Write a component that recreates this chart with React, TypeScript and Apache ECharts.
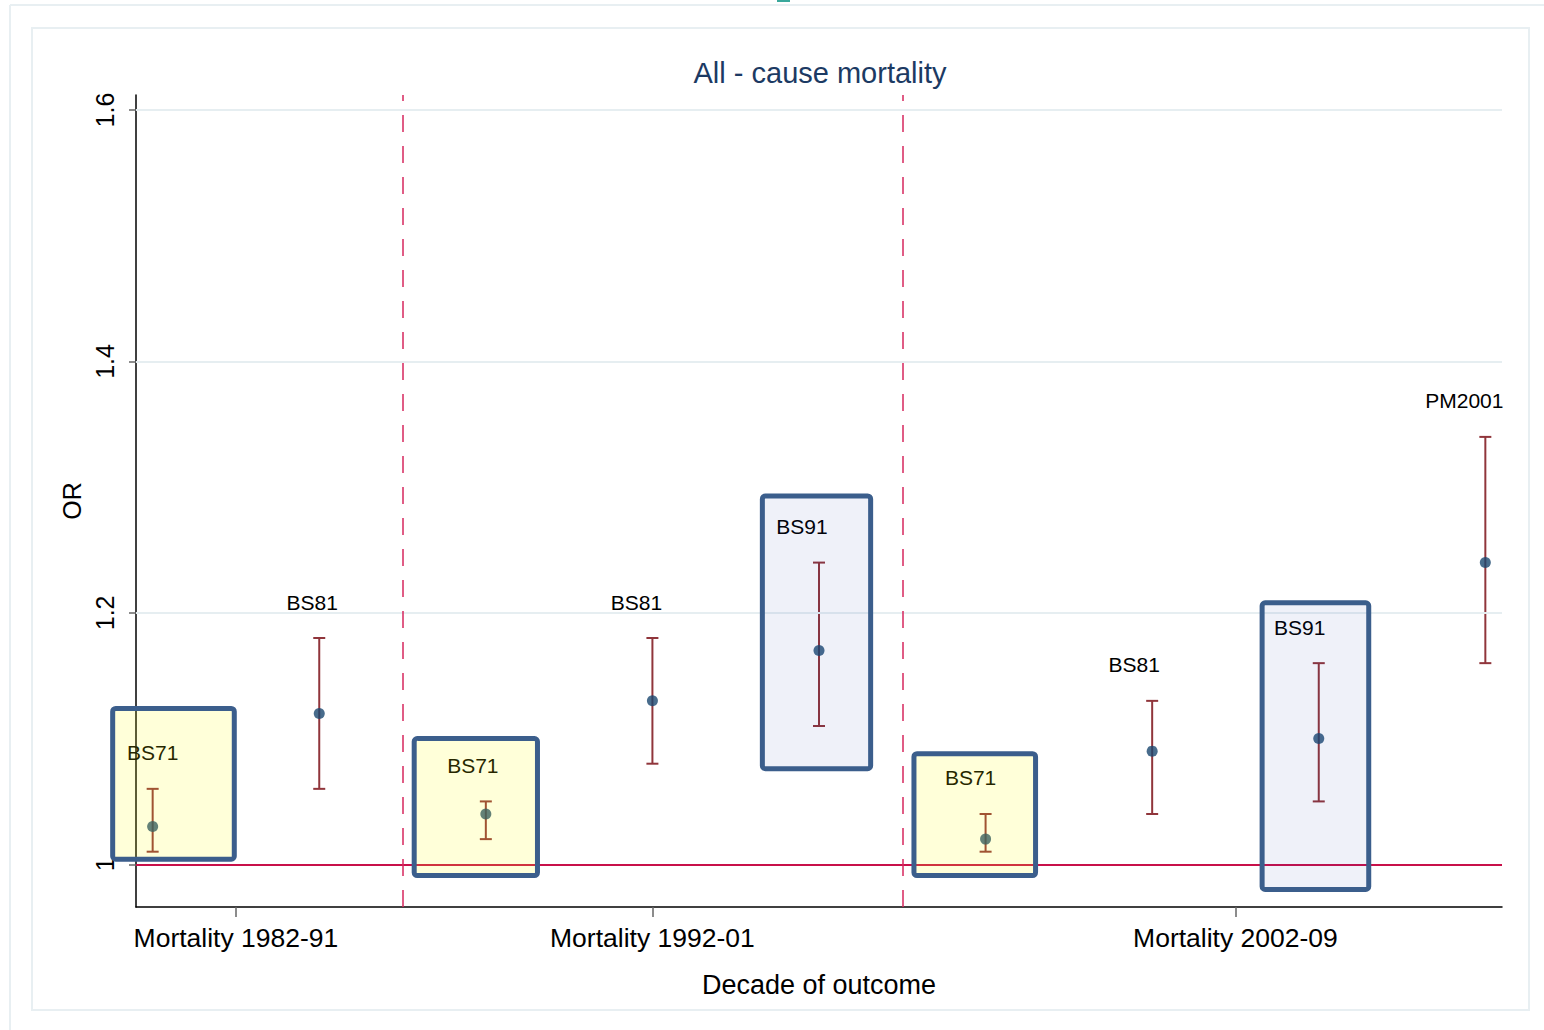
import React, { useEffect, useRef } from "react";
import * as echarts from "echarts";

// ---- data ----
const xPositions = [1, 2, 3, 4, 5, 6, 7, 8, 9];
const studyLabels = ["BS71", "BS81", "BS71", "BS81", "BS91", "BS71", "BS81", "BS91", "PM2001"];
const oddsRatio = [1.03, 1.12, 1.04, 1.13, 1.17, 1.02, 1.09, 1.1, 1.24];
const ciLower = [1.01, 1.06, 1.02, 1.08, 1.11, 1.01, 1.04, 1.05, 1.16];
const ciUpper = [1.06, 1.18, 1.05, 1.18, 1.24, 1.04, 1.13, 1.16, 1.34];

const decadeTickValues = [1.5, 4, 7.5];
const decadeTickLabels = ["Mortality 1982-91", "Mortality 1992-01", "Mortality 2002-09"];
const decadeSeparators = [2.5, 5.5];
const yTickValues = [1, 1.2, 1.4, 1.6];
const yGridValues = [1.2, 1.4, 1.6];
const referenceValue = 1;

// highlight boxes (data coordinates), kind 0 = yellow, 1 = blue
const boxX0 = [0.76, 2.57, 4.66, 5.57, 7.66];
const boxX1 = [1.49, 3.31, 5.31, 6.3, 8.3];
const boxY0 = [1.004, 0.991, 1.076, 0.991, 0.98];
const boxY1 = [1.124, 1.1, 1.293, 1.088, 1.208];
const boxKind = [0, 0, 1, 0, 1];

const FONT = "'Liberation Sans', Arial, sans-serif";
// horizontal label nudges (pixels), layout only
const LABEL_DX = [0, -7, -13, -16, -17, -15, -18, -19, -21];

export default function App() {
  const ref = useRef<HTMLDivElement>(null);
  useEffect(() => {
    if (!ref.current) return;
    const chart = echarts.init(ref.current, undefined, { renderer: "svg" });
    const ciData = xPositions.map((x, i) => [x, ciLower[i], ciUpper[i], i]);
    const pointData = xPositions.map((x, i) => [x, oddsRatio[i]]);
    const boxData = boxX0.map((x0, i) => [x0, boxX1[i], boxY0[i], boxY1[i], boxKind[i]]);

    chart.setOption({
      animation: false,
      backgroundColor: "#ffffff",
      textStyle: { fontFamily: FONT },
      title: {
        text: "All - cause mortality",
        left: 815,
        textAlign: "center",
        top: 53,
        textStyle: { fontFamily: FONT, fontSize: 29, fontWeight: "normal", color: "#1c3a63" },
      },
      graphic: [
        { type: "line", shape: { x1: 10, y1: 5, x2: 1544, y2: 5 }, style: { stroke: "#e8eff2", lineWidth: 2 }, silent: true },
        { type: "line", shape: { x1: 10, y1: 5, x2: 10, y2: 1030 }, style: { stroke: "#e8eff2", lineWidth: 2 }, silent: true },
        { type: "rect", shape: { x: 32, y: 28, width: 1497, height: 982 }, style: { fill: "none", stroke: "#e8eff2", lineWidth: 2 }, silent: true },
        { type: "rect", shape: { x: 777, y: 0, width: 13, height: 2 }, style: { fill: "#3aa89c" }, silent: true },
      ],
      grid: { left: 136, right: 42, top: 95, bottom: 123, containLabel: false },
      xAxis: {
        type: "value",
        min: 0.9,
        max: 9.1,
        name: "Decade of outcome",
        nameLocation: "middle",
        nameGap: 64,
        nameTextStyle: { fontFamily: FONT, fontSize: 27, color: "#000" },
        axisLine: { show: true, onZero: false, lineStyle: { color: "#000", width: 1.5 } },
        axisTick: { show: true, customValues: decadeTickValues, length: 10, lineStyle: { color: "#666", width: 1.5 } },
        axisLabel: {
          customValues: decadeTickValues,
          margin: 17,
          fontFamily: FONT,
          fontSize: 26.5,
          color: "#000",
          formatter: (v: number) => {
            const i = decadeTickValues.indexOf(v);
            return i >= 0 ? decadeTickLabels[i] : "";
          },
        },
        splitLine: { show: false },
      },
      yAxis: {
        type: "value",
        min: 0.966,
        max: 1.612,
        name: "OR",
        nameLocation: "middle",
        nameGap: 50,
        nameRotate: 90,
        nameTextStyle: { fontFamily: FONT, fontSize: 25, color: "#000" },
        axisLine: { show: true, onZero: false, lineStyle: { color: "#000", width: 1.5 } },
        axisTick: { show: true, customValues: yTickValues, length: 7, lineStyle: { color: "#666", width: 1.5 } },
        axisLabel: {
          customValues: yTickValues,
          rotate: 90,
          margin: 19,
          fontFamily: FONT,
          fontSize: 25,
          color: "#000",
          formatter: (v: number) => String(Math.round(v * 10) / 10),
        },
        splitLine: { show: false },
      },
      series: [
        {
          type: "line",
          data: [],
          silent: true,
          markLine: {
            silent: true,
            symbol: "none",
            label: { show: false },
            data: [
              ...yGridValues.map((v) => ({ yAxis: v, lineStyle: { color: "#e6eef1", width: 2, type: "solid" } })),
              { yAxis: referenceValue, lineStyle: { color: "#c8104a", width: 2, type: "solid" } },
              ...decadeSeparators.map((v) => ({ xAxis: v, lineStyle: { color: "#d6275e", width: 1.5, type: [17, 14] } })),
            ],
          },
        },
        {
          type: "custom",
          z: 3,
          data: ciData,
          renderItem: (params: any, api: any) => {
            const x = api.value(0);
            const lo = api.coord([x, api.value(1)]);
            const hi = api.coord([x, api.value(2)]);
            const idx = api.value(3);
            const c = "#90353b";
            const cw = 6;
            return {
              type: "group",
              children: [
                { type: "line", shape: { x1: lo[0], y1: lo[1], x2: hi[0], y2: hi[1] }, style: { stroke: c, lineWidth: 2 } },
                { type: "line", shape: { x1: lo[0] - cw, y1: lo[1], x2: lo[0] + cw, y2: lo[1] }, style: { stroke: c, lineWidth: 2 } },
                { type: "line", shape: { x1: hi[0] - cw, y1: hi[1], x2: hi[0] + cw, y2: hi[1] }, style: { stroke: c, lineWidth: 2 } },
                {
                  type: "text",
                  x: hi[0] + (LABEL_DX[idx] ?? -16),
                  y: hi[1] - 36,
                  style: {
                    text: studyLabels[idx],
                    fill: "#000",
                    font: `21px ${FONT}`,
                    align: "center",
                    verticalAlign: "middle",
                  },
                },
              ],
            };
          },
        },
        {
          type: "scatter",
          z: 4,
          symbol: "circle",
          symbolSize: 11,
          itemStyle: { color: "#1a476f" },
          data: pointData,
        },
        {
          type: "custom",
          z: 6,
          clip: false,
          data: boxData,
          renderItem: (params: any, api: any) => {
            const p0 = api.coord([api.value(0), api.value(3)]);
            const p1 = api.coord([api.value(1), api.value(2)]);
            const kind = api.value(4);
            return {
              type: "rect",
              shape: { x: p0[0], y: p0[1], width: p1[0] - p0[0], height: p1[1] - p0[1], r: 3 },
              style: {
                fill: kind === 0 ? "rgba(255,255,0,0.15)" : "rgba(30,60,170,0.07)",
                stroke: "#3b5e8c",
                lineWidth: 5,
              },
            };
          },
        },
      ],
    });
    return () => chart.dispose();
  }, []);
  return (
    <div
      ref={ref}
      style={{ position: "absolute", left: 0, top: 0, width: 1544, height: 1030 }}
    />
  );
}
